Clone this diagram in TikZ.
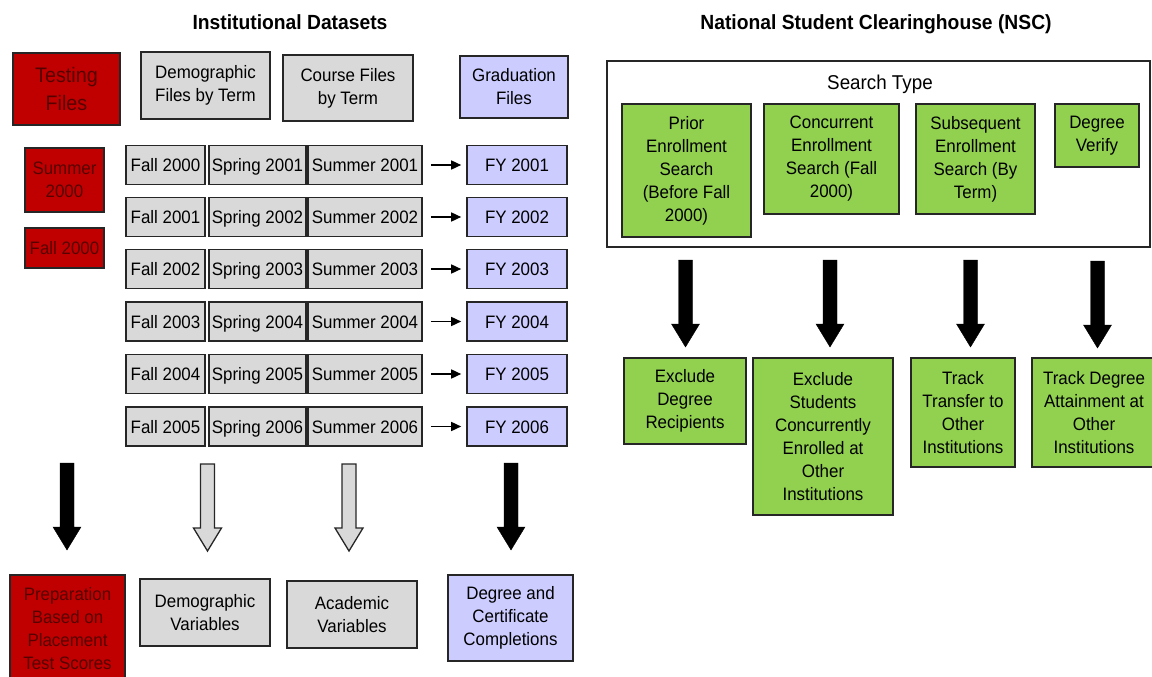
\documentclass[tikz,border=0pt]{standalone}
\usepackage{fontspec}
\setmainfont[FakeStretch=0.94]{Liberation Sans}
\usepackage{xcolor}
\usepackage{tikz}
\usetikzlibrary{arrows.meta}

\definecolor{testred}{HTML}{C00000}
\definecolor{testtxt}{HTML}{560000}
\definecolor{filegray}{HTML}{D9D9D9}
\definecolor{gradblue}{HTML}{CCCCFF}
\definecolor{nscgreen}{HTML}{92D050}
\definecolor{edge}{HTML}{262626}

\begin{document}
\begin{tikzpicture}[x=1pt, y=-1pt,
    box/.style={draw=edge, line width=1.6pt, rectangle, align=center, inner sep=0pt,
        font=\fontsize{18}{23}\selectfont},
    redbox/.style={box, fill=testred, text=testtxt},
    graybox/.style={box, fill=filegray},
    bluebox/.style={box, fill=gradblue},
    greenbox/.style={box, fill=nscgreen},
    termbox/.style={graybox, minimum height=39pt, text height=15pt, text depth=2pt},
    fybox/.style={bluebox, minimum width=100pt, minimum height=39pt, text height=15pt, text depth=2pt},
    title/.style={font=\fontsize{20.5}{23}\selectfont\bfseries},
    smallarr/.style={-{Triangle[length=10pt,width=9pt]}, line width=1.5pt},
    blockarr/.pic={\draw[pic actions] (-7,0) -- (7,0) -- (7,64) -- (14,64) -- (0,87) -- (-14,64) -- (-7,64) -- cycle;}
]
\useasboundingbox (0,0) rectangle (1152,677);

% Institutional datasets
\node[title] (insttitle) at (290,22) {Institutional Datasets};
\node[redbox, minimum width=107pt, minimum height=72pt, font=\fontsize{21}{28}\selectfont] (testfiles) at (66.5,89) {Testing\\Files};
\node[graybox, minimum width=129pt, minimum height=67pt] (demfiles) at (205.5,85.5) {Demographic\\Files by Term};
\node[graybox, minimum width=130pt, minimum height=66pt] (crsfiles) at (348,88) {Course Files\\by Term};
\node[bluebox, minimum width=108pt, minimum height=62pt] (gradfiles) at (514,87) {Graduation\\Files};

\node[redbox, minimum width=79pt, minimum height=64pt] (sum00) at (64.5,180) {Summer\\2000};
\node[redbox, minimum width=79pt, minimum height=40pt] (fall00) at (64.5,248) {Fall 2000};

% term files by year
\node[termbox, minimum width=79pt] (fall1) at (165.5,165) {Fall 2000};
\node[termbox, minimum width=97pt] (spr1) at (257.5,165) {Spring 2001};
\node[termbox, minimum width=114pt] (sum1) at (365,165) {Summer 2001};
\node[fybox] (fy1) at (517,165) {FY 2001};

\node[termbox, minimum width=79pt] (fall2) at (165.5,217) {Fall 2001};
\node[termbox, minimum width=97pt] (spr2) at (257.5,217) {Spring 2002};
\node[termbox, minimum width=114pt] (sum2) at (365,217) {Summer 2002};
\node[fybox] (fy2) at (517,217) {FY 2002};

\node[termbox, minimum width=79pt] (fall3) at (165.5,269) {Fall 2002};
\node[termbox, minimum width=97pt] (spr3) at (257.5,269) {Spring 2003};
\node[termbox, minimum width=114pt] (sum3) at (365,269) {Summer 2003};
\node[fybox] (fy3) at (517,269) {FY 2003};

\node[termbox, minimum width=79pt] (fall4) at (165.5,321.5) {Fall 2003};
\node[termbox, minimum width=97pt] (spr4) at (257.5,321.5) {Spring 2004};
\node[termbox, minimum width=114pt] (sum4) at (365,321.5) {Summer 2004};
\node[fybox] (fy4) at (517,321.5) {FY 2004};

\node[termbox, minimum width=79pt] (fall5) at (165.5,374) {Fall 2004};
\node[termbox, minimum width=97pt] (spr5) at (257.5,374) {Spring 2005};
\node[termbox, minimum width=114pt] (sum5) at (365,374) {Summer 2005};
\node[fybox] (fy5) at (517,374) {FY 2005};

\node[termbox, minimum width=79pt] (fall6) at (165.5,426.5) {Fall 2005};
\node[termbox, minimum width=97pt] (spr6) at (257.5,426.5) {Spring 2006};
\node[termbox, minimum width=114pt] (sum6) at (365,426.5) {Summer 2006};
\node[fybox] (fy6) at (517,426.5) {FY 2006};

\draw[smallarr, shorten <=8pt, shorten >=5pt] (sum1) -- (fy1);
\draw[smallarr, shorten <=8pt, shorten >=5pt] (sum2) -- (fy2);
\draw[smallarr, shorten <=8pt, shorten >=5pt] (sum3) -- (fy3);
\draw[smallarr, shorten <=8pt, shorten >=5pt] (sum4) -- (fy4);
\draw[smallarr, shorten <=8pt, shorten >=5pt] (sum5) -- (fy5);
\draw[smallarr, shorten <=8pt, shorten >=5pt] (sum6) -- (fy6);

% outcome variables
\pic[fill=black, draw=black] (arrtest) at (67,463) {blockarr};
\pic[fill=filegray, draw=edge, line width=1.3pt] (arrdem) at (207.5,464) {blockarr};
\pic[fill=filegray, draw=edge, line width=1.3pt] (arrcrs) at (349,464) {blockarr};
\pic[fill=black, draw=black] (arrgrad) at (511,463) {blockarr};

\node[redbox, minimum width=115pt, minimum height=107pt] (prep) at (67.5,628.5) {Preparation\\Based on\\Placement\\Test Scores};
\node[graybox, minimum width=130pt, minimum height=67pt] (demvar) at (205,612.5) {Demographic\\Variables};
\node[graybox, minimum width=130pt, minimum height=67pt] (acadvar) at (352,614.5) {Academic\\Variables};
\node[bluebox, minimum width=125pt, minimum height=86pt] (degcomp) at (510.5,618) {Degree and\\Certificate\\Completions};

% NSC searches
\node[title] (nsctitle) at (876,24) {National Student Clearinghouse (NSC)};
\node[draw=edge, line width=1.6pt, fill=white, minimum width=543pt, minimum height=186pt, inner sep=0pt] (searchbox) at (878.5,154) {};
\node[font=\fontsize{20}{23}\selectfont] (searchlbl) at (880,84) {Search Type};
\node[greenbox, minimum width=129pt, minimum height=133pt] (prior) at (686.5,170.5) {Prior\\Enrollment\\Search\\(Before Fall\\2000)};
\node[greenbox, minimum width=135pt, minimum height=110pt] (concur) at (831.5,159) {Concurrent\\Enrollment\\Search (Fall\\2000)};
\node[greenbox, minimum width=119pt, minimum height=110pt] (subseq) at (975.5,159) {Subsequent\\Enrollment\\Search (By\\Term)};
\node[greenbox, minimum width=84pt, minimum height=63pt] (degver) at (1097,135.5) {Degree\\Verify};

\pic[fill=black, draw=black] (arrprior) at (685.5,260) {blockarr};
\pic[fill=black, draw=black] (arrconcur) at (830,260) {blockarr};
\pic[fill=black, draw=black] (arrsubseq) at (970.5,260) {blockarr};
\pic[fill=black, draw=black] (arrdegver) at (1097.5,261) {blockarr};

\node[greenbox, minimum width=122pt, minimum height=86pt] (excdeg) at (685,401) {Exclude\\Degree\\Recipients};
\node[greenbox, minimum width=140pt, minimum height=157pt] (excstu) at (823,436.5) {Exclude\\Students\\Concurrently\\Enrolled at\\Other\\Institutions};
\node[greenbox, minimum width=104pt, minimum height=109pt] (tracktr) at (963,412.5) {Track\\Transfer to\\Other\\Institutions};
\node[greenbox, minimum width=124pt, minimum height=109pt] (trackdeg) at (1094,412.5) {Track Degree\\Attainment at\\Other\\Institutions};
\end{tikzpicture}
\end{document}
